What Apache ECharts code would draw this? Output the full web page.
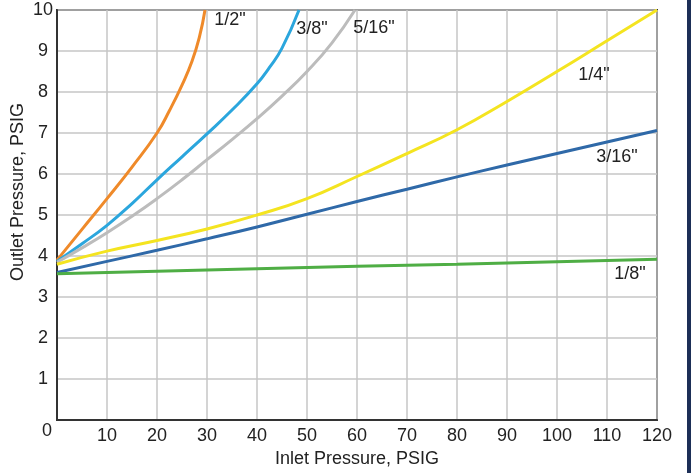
<!DOCTYPE html>
<html>
<head>
<meta charset="utf-8">
<script src="https://cdn.jsdelivr.net/npm/echarts@6/dist/echarts.min.js"></script>
<style>
html,body{margin:0;padding:0;background:#fff;}
#chart{width:691px;height:473px;}
</style>
</head>
<body>
<div id="chart"></div>
<script>
// Data: [inlet PSIG, outlet PSIG]
const xTicks = [0,10,20,30,40,50,60,70,80,90,100,110,120];
const yTicks = [0,1,2,3,4,5,6,7,8,9,10];
const seriesNames = ['1/2"', '3/8"', '5/16"', '1/4"', '3/16"', '1/8"'];

const half = [[0,3.9],[5,4.65],[10,5.4],[15,6.17],[20,7.0],[22.5,7.55],[25,8.17],[27,8.75],[28.5,9.35],[29.6,10]];
const threeEighths = [[0,3.87],[5,4.3],[10,4.75],[15,5.28],[20,5.86],[25,6.42],[30,6.98],[35,7.56],[40,8.2],[42.5,8.6],[45,9.07],[48.4,10]];
const fiveSixteenths = [[0,3.85],[5,4.2],[10,4.57],[15,4.97],[20,5.4],[25,5.86],[30,6.35],[35,6.84],[40,7.35],[45,7.9],[50,8.5],[55,9.2],[59.6,10]];
const quarter = [[0,3.8],[10,4.12],[20,4.38],[30,4.66],[40,5.0],[50,5.4],[60,5.94],[70,6.5],[80,7.08],[90,7.77],[100,8.5],[110,9.25],[120,10]];
const threeSixteenths = [[0,3.6],[10,3.87],[20,4.14],[30,4.42],[40,4.71],[50,5.02],[60,5.33],[70,5.63],[80,5.93],[90,6.22],[100,6.5],[110,6.78],[120,7.06]];
const eighth = [[0,3.57],[20,3.63],[40,3.69],[60,3.75],[80,3.8],[100,3.86],[120,3.92]];

const seriesData = [half, threeEighths, fiveSixteenths, quarter, threeSixteenths, eighth];
const colors = ['#ef8a2a', '#2ba6dd', '#bcbcbc', '#f4e420', '#2f69a8', '#4fae45'];
// label anchor points in data space
const labelAt = [[34.6,9.76],[51,9.54],[63.4,9.56],[107.4,8.42],[112,6.42],[114.6,3.55]];

const FONT = '"Liberation Sans", Arial, sans-serif';
const FS = 18;
const chart = echarts.init(document.getElementById('chart'), null, {renderer:'canvas'});

const option = {
  animation: false,
  backgroundColor: '#ffffff',
  textStyle: {fontFamily: FONT},
  grid: {left: 57, top: 10, right: 34, bottom: 52, show: true, borderColor: '#333', borderWidth: 2, backgroundColor: '#fff'},
  xAxis: {
    type: 'value', min: 0, max: 120, interval: 10,
    name: 'Inlet Pressure, PSIG', nameLocation: 'middle', nameGap: 28,
    nameTextStyle: {fontSize: FS, color: '#222', fontFamily: FONT},
    axisLine: {show: true, lineStyle: {color: '#333', width: 2}},
    axisTick: {show: false},
    axisLabel: {fontSize: FS, color: '#222', margin: 7, fontFamily: FONT,
      formatter: v => (v === 0 ? '' : String(v))},
    splitLine: {show: true, lineStyle: {color: '#c6c6c6', width: 1.5}}
  },
  yAxis: {
    type: 'value', min: 0, max: 10, interval: 1,
    axisLine: {show: true, lineStyle: {color: '#333', width: 2}},
    axisTick: {show: false},
    axisLabel: {fontSize: FS, color: '#222', margin: 14, align: 'center', fontFamily: FONT,
      formatter: v => (v === 0 ? '' : String(v))},
    splitLine: {show: true, lineStyle: {color: '#c6c6c6', width: 1.5}}
  },
  graphic: [
    {type: 'text', x: 18, y: 192, rotation: Math.PI/2,
     style: {text: 'Outlet Pressure, PSIG', font: FS + 'px ' + FONT, fill: '#222', align: 'center', verticalAlign: 'middle'}},
    {type: 'text', x: 47, y: 431,
     style: {text: String(xTicks[0]), font: FS + 'px ' + FONT, fill: '#222', align: 'center', verticalAlign: 'middle'}},
    {type: 'rect', shape: {x: 687, y: 0, width: 4, height: 473}, style: {fill: '#1d2f57'}}
  ],
  series: seriesData.map((d, i) => ({
    name: seriesNames[i],
    type: 'line',
    data: d,
    smooth: 0.5,
    symbol: 'none',
    lineStyle: {color: colors[i], width: 3},
    z: 3,
    markPoint: {
      silent: true,
      symbol: 'circle', symbolSize: 1,
      itemStyle: {color: 'rgba(0,0,0,0)'},
      label: {show: true, position: 'inside', formatter: seriesNames[i], fontSize: FS, color: '#222', fontFamily: FONT},
      data: [{coord: labelAt[i]}]
    }
  }))
};
chart.setOption(option);
</script>
</body>
</html>
